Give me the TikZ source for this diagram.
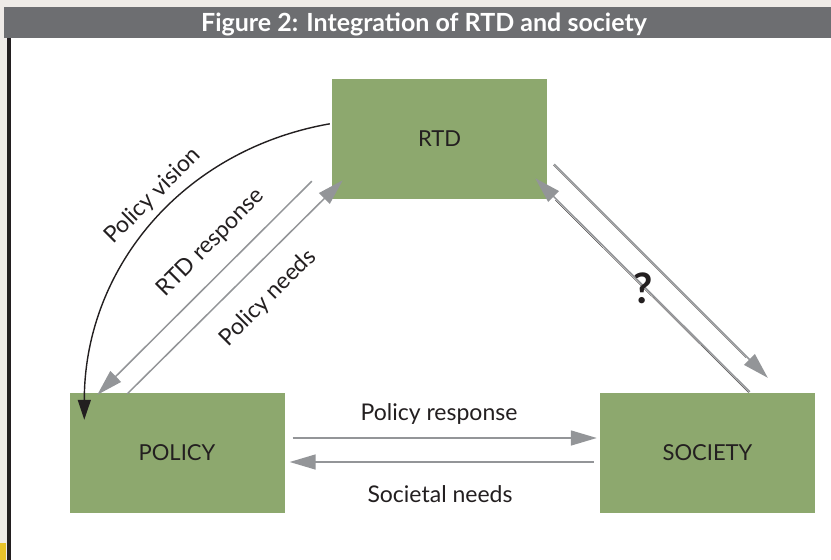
\documentclass[tikz,border=0pt]{standalone}
\usepackage{fontspec}
\setmainfont{Lato}
\usetikzlibrary{arrows.meta, calc}

\definecolor{boxgreen}{RGB}{141,168,110}
\definecolor{bargrey}{RGB}{109,110,113}
\definecolor{linkgrey}{RGB}{147,149,152}
\definecolor{pagetone}{RGB}{239,235,231}
\definecolor{rulegold}{RGB}{232,194,42}
\definecolor{inkdark}{RGB}{35,31,32}

\tikzset{
  block/.style={fill=boxgreen, text=inkdark, minimum width=215pt, minimum height=120pt,
    inner sep=0pt, font=\fontsize{22}{24}\selectfont},
  flow/.style={draw=linkgrey, line width=1.5pt, -{Triangle[length=26pt, width=15pt]}},
  hairline/.style={draw=inkdark, line width=0.35pt},
  vision/.style={draw=inkdark, line width=1.4pt, -{Triangle[length=20pt, width=13pt]}},
  flowlabel/.style={text=inkdark, font=\fontsize{23}{25}\selectfont, inner sep=0pt},
}

\begin{document}
\begin{tikzpicture}[x=1pt, y=-1pt]
    \useasboundingbox (0, 0) rectangle (831, 560);

    % page, title bar and left rule
    \fill[pagetone] (0, 0) rectangle (831, 560);
    \fill[white] (11, 38) rectangle (831, 560);
    \fill[bargrey] (4, 7) rectangle (831, 38);
    \fill[inkdark] (7, 38) rectangle (11, 560);
    \fill[rulegold] (0, 543) rectangle (6, 560);
    \node[white, font=\fontsize{25}{27}\selectfont\bfseries] (title) at (424, 24)
        {Figure 2: Integration of RTD and society};

    % the three actors
    \node[block] (rtd) at (439.5, 139) {RTD};
    \node[block] (policy) at (177, 453) {POLICY};
    \node[block] (society) at (707.5, 453) {SOCIETY};

    % RTD <-> policy
    \draw[vision] ($(rtd.north west)+(-2, 45)$) to[out=190, in=90] ($(policy.north west)+(15, 27)$);
    \draw[flow] ($(rtd.south west)+(-20, -18)$) -- ($(policy.north west)+(28, 2)$);
    \draw[flow] ($(policy.north west)+(58, 1)$) -- ($(rtd.south west)+(11, -19)$);
    \node[flowlabel, rotate=45] at (153, 196) {Policy vision};
    \node[flowlabel, rotate=45] at (211, 243) {RTD response};
    \node[flowlabel, rotate=45] at (268, 298) {Policy needs};

    % RTD <-> society, still open
    \draw[flow] ($(rtd.south east)+(7, -35)$) -- ($(society.north west)+(168, -15)$);
    \draw[hairline] ($(rtd.south east)+(6, -34)$) -- ($(society.north west)+(146, -35)$);
    \draw[flow] ($(society.north west)+(150, -1)$) -- ($(rtd.south east)+(-12, -21)$);
    \draw[hairline] ($(society.north west)+(149, 0)$) -- ($(rtd.south east)+(8, 1)$);
    \node[text=inkdark, font=\fontsize{42}{44}\selectfont\bfseries] (open) at (643, 288) {?};

    % policy <-> society
    \draw[flow] ($(policy.east)+(8, -15)$) -- ($(society.west)+(-3, -15)$);
    \draw[flow] ($(society.west)+(-6, 9)$) -- ($(policy.east)+(5, 9)$);
    \node[flowlabel] at (439, 414) {Policy response};
    \node[flowlabel] at (440, 494) {Societal needs};
\end{tikzpicture}
\end{document}
